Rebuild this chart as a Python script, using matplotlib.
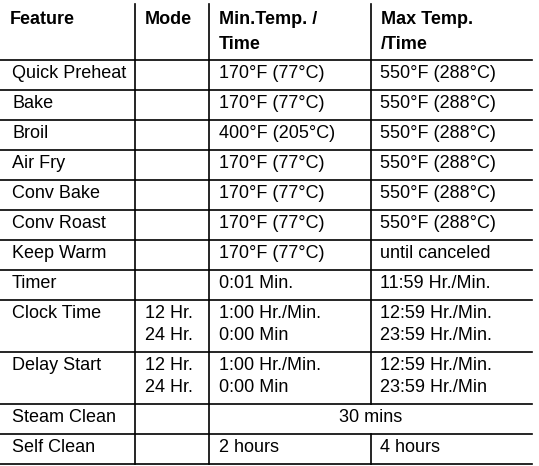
import matplotlib
matplotlib.use("Agg")
import matplotlib.pyplot as plt

headers = ["Feature", "Mode", "Min.Temp. /\nTime", "Max Temp.\n/Time"]
features = ["Quick Preheat", "Bake", "Broil", "Air Fry", "Conv Bake", "Conv Roast",
            "Keep Warm", "Timer", "Clock Time", "Delay Start", "Steam Clean", "Self Clean"]
modes = ["", "", "", "", "", "", "", "", "12 Hr.\n24 Hr.", "12 Hr.\n24 Hr.", "", ""]
min_vals = ["170°F (77°C)", "170°F (77°C)", "400°F (205°C)", "170°F (77°C)", "170°F (77°C)",
            "170°F (77°C)", "170°F (77°C)", "0:01 Min.", "1:00 Hr./Min.\n0:00 Min",
            "1:00 Hr./Min.\n0:00 Min", "30 mins", "2 hours"]
max_vals = ["550°F (288°C)", "550°F (288°C)", "550°F (288°C)", "550°F (288°C)", "550°F (288°C)",
            "550°F (288°C)", "until canceled", "11:59 Hr./Min.", "12:59 Hr./Min.\n23:59 Hr./Min.",
            "12:59 Hr./Min.\n23:59 Hr./Min", None, "4 hours"]

W, H = 539, 466
fig = plt.figure(figsize=(W/100, H/100), dpi=100)
ax = fig.add_axes([0, 0, 1, 1])
ax.set_xlim(0, W); ax.set_ylim(H, 0); ax.axis("off")
plt.rcParams['font.family'] = ['Liberation Sans', 'DejaVu Sans']

cols = [0, 135, 209, 371, 532]
row_lines = [60, 90, 120, 150, 180, 210, 240, 270, 300, 352, 404, 434, 464]
lw = 1.2
for y in row_lines:
    ax.plot([0, cols[-1]], [y, y], color="black", lw=lw)
ax.plot([cols[1]]*2, [4, 464], color="black", lw=lw)
ax.plot([cols[2]]*2, [4, 464], color="black", lw=lw)
ax.plot([cols[3]]*2, [4, 404], color="black", lw=lw)
ax.plot([cols[3]]*2, [434, 464], color="black", lw=lw)

fs = 13

def put(x, y, s, step, **kw):
    for k, line in enumerate(s.split("\n")):
        ax.text(x, y + k * step, line, fontsize=fs, va="baseline", **kw)

for i, h in enumerate(headers):
    put(cols[i] + 10, 24, h, 25, fontweight="bold")

for r in range(len(features)):
    base = row_lines[r] + 18
    put(12, base, features[r], 22)
    if modes[r]:
        put(cols[1] + 10, base, modes[r], 22)
    if max_vals[r] is None:
        put((cols[2] + cols[4]) / 2, base, min_vals[r], 22, ha="center")
    else:
        put(cols[2] + 10, base, min_vals[r], 22)
        put(cols[3] + 9, base, max_vals[r], 22)

fig.savefig("out.png", dpi=100)
